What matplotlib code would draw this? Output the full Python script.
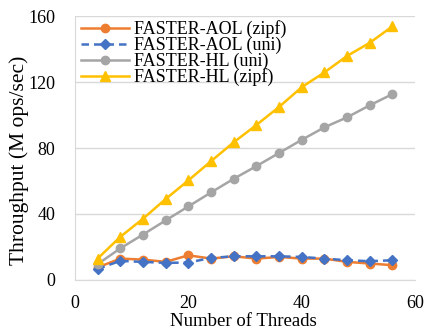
import matplotlib
matplotlib.use("Agg")
import matplotlib.pyplot as plt

plt.rcParams['font.family'] = ['Liberation Serif', 'DejaVu Serif']

# Data
threads = [4, 8, 12, 16, 20, 24, 28, 32, 36, 40, 44, 48, 52, 56]
aol_zipf = [7.4, 12.8, 12.2, 10.8, 14.8, 12.8, 14.2, 12.8, 13.8, 12.8, 12.8, 10.8, 9.8, 8.8]
aol_uni = [6.5, 11.4, 10.8, 10.2, 10.4, 13.2, 14.2, 14.2, 14.2, 13.8, 12.8, 11.8, 11.2, 11.8]
hl_uni = [9.4, 19, 27.4, 36, 44.5, 53, 61.3, 69, 77, 85, 92.6, 98.7, 106, 112.8]
hl_zipf = [12.8, 26, 37, 49, 60.3, 72, 83.5, 94, 105, 117, 126, 136, 144, 154]

xticks = [0, 20, 40, 60]
yticks = [0, 40, 80, 120, 160]

fig = plt.figure(figsize=(4.28, 3.29), dpi=100)
ax = fig.add_axes([0.175, 0.150, 0.795, 0.800])

ax.plot(threads, aol_zipf, color='#ED7D31', marker='o', markersize=6, lw=1.8,
        label='FASTER-AOL (zipf)')
ax.plot(threads, aol_uni, color='#4472C4', marker='D', markersize=5, lw=1.8,
        ls=(0, (3, 2)), label='FASTER-AOL (uni)')
ax.plot(threads, hl_uni, color='#A5A5A5', marker='o', markersize=6, lw=1.8,
        label='FASTER-HL (uni)')
ax.plot(threads, hl_zipf, color='#FFC000', marker='^', markersize=7, lw=1.8,
        label='FASTER-HL (zipf)')

ax.set_xlim(0, 60)
ax.set_ylim(0, 160)
ax.set_xticks(xticks)
ax.set_yticks(yticks)
ax.tick_params(length=0, labelsize=13, colors='black')
ax.tick_params(axis='x', pad=11)
ax.tick_params(axis='y', pad=14)
ax.grid(axis='y', color='#D9D9D9', lw=1)
ax.set_axisbelow(True)
for side in ['top', 'right']:
    ax.spines[side].set_visible(False)
for side in ['left', 'bottom']:
    ax.spines[side].set_color('#D9D9D9')

ax.set_xlabel('Number of Threads', fontsize=13.5)
ax.xaxis.set_label_coords(0.496, -0.126)
ax.set_ylabel('Throughput (M ops/sec)', fontsize=15.5)
ax.yaxis.set_label_coords(-0.136, 0.455)

ax.legend(loc='upper left', bbox_to_anchor=(-0.01, 1.02), frameon=False,
          fontsize=13, handlelength=2.7, labelspacing=-0.08,
          handletextpad=0.25, borderpad=0.2, borderaxespad=0.3)

fig.savefig('out.png', dpi=100)
